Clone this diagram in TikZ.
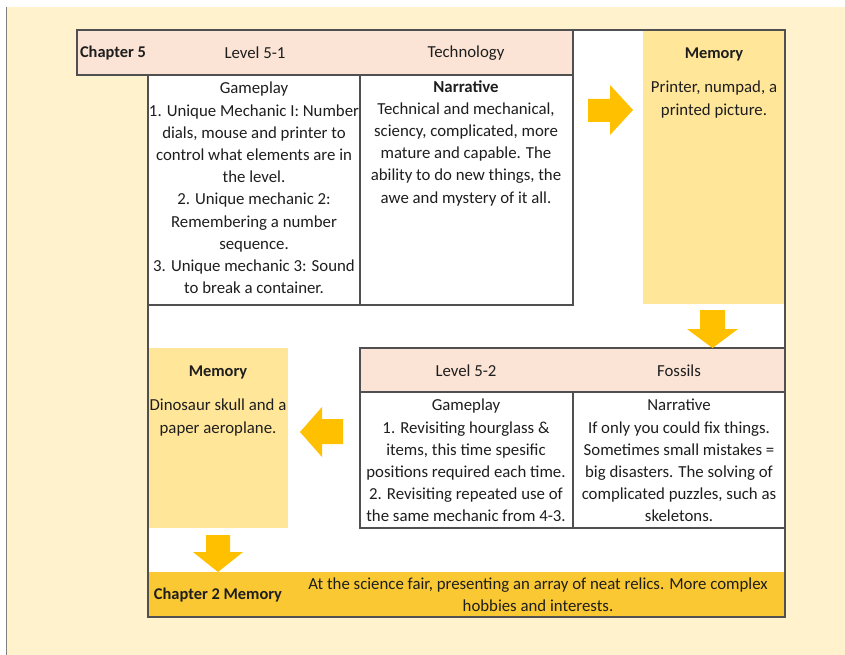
\documentclass[tikz,border=0pt]{standalone}
\usepackage{fontspec}
\setmainfont{Carlito}
\definecolor{cream}{HTML}{FFF2CC}
\definecolor{headpink}{HTML}{FBE4D5}
\definecolor{memyellow}{HTML}{FFE699}
\definecolor{arrowgold}{HTML}{FFC000}
\definecolor{bargold}{HTML}{FAC832}
\definecolor{rule}{HTML}{505050}
\definecolor{ink}{HTML}{1E1E1E}
\tikzset{
  cellline/.style={draw=rule, line width=1.1pt},
  txt/.style={text=ink, align=center, inner sep=0pt, font=\fontsize{16.8}{22.2}\selectfont},
  boldtxt/.style={txt, font=\fontsize{16.4}{22.2}\selectfont\bfseries},
  blockarrow/.style={fill=arrowgold}
}
\begin{document}
\begin{tikzpicture}[x=1pt,y=-1pt]
\useasboundingbox (0,0) rectangle (845,655);
\fill[white] (0,0) rectangle (845,655);
\fill[cream] (6,7) rectangle (845,655);
\draw[gray, line width=1pt] (6,7) -- (6,655);
% chapter frame
\fill[white] (148,30) rectangle (785,617);
\fill[memyellow] (643,30) rectangle (785,304);
\fill[memyellow] (148,348) rectangle (288,528);
\fill[bargold] (148,572) rectangle (785,617);
% level 5-1
\draw[cellline, fill=headpink] (77,30) rectangle (573,75);
\draw[cellline] (148,75) rectangle (360,305);
\draw[cellline] (360,75) rectangle (573,305);
% level 5-2
\draw[cellline, fill=headpink] (360,348) rectangle (785,392);
\draw[cellline] (360,392) rectangle (573,528);
\draw[cellline] (573,392) rectangle (785,528);
\draw[cellline] (573,30) -- (785,30) -- (785,617) -- (148,617) -- (148,75);
% arrows
\fill[blockarrow] (588,99) -- (610,99) -- (610,85) -- (633,110) -- (610,135) -- (610,122) -- (588,122) -- cycle;
\fill[blockarrow] (700,310) -- (725,310) -- (725,329) -- (738,329) -- (712.5,348) -- (687,329) -- (700,329) -- cycle;
\fill[blockarrow] (343,419) -- (322,419) -- (322,407) -- (300,432) -- (322,457) -- (322,444) -- (343,444) -- cycle;
\fill[blockarrow] (206,535) -- (230,535) -- (230,552) -- (243,552) -- (218,572) -- (193,552) -- (206,552) -- cycle;
% texts
\node[boldtxt] (ch5) at (113,53) {Chapter 5};
\node[txt] (lvl51) at (255,53) {Level 5-1};
\node[txt] (tech) at (466,53) {Technology};
\node[boldtxt] (mem1) at (714,54) {Memory};
\node[txt, anchor=north] (game1) at (254,82) {Gameplay\\1. Unique Mechanic I: Number\\dials, mouse and printer to\\control what elements are in\\the level.\\2. Unique mechanic 2:\\Remembering a number\\sequence.\\3. Unique mechanic 3: Sound\\to break a container.};
\node[txt, anchor=north] (narr1) at (466,80) {\textbf{Narrative}\\Technical and mechanical,\\sciency, complicated, more\\mature and capable. The\\ability to do new things, the\\awe and mystery of it all.};
\node[txt, anchor=north] (memtxt1) at (714,81) {Printer, numpad, a\\printed picture.};
\node[txt] (lvl52) at (466,371) {Level 5-2};
\node[txt] (foss) at (679,371) {Fossils};
\node[boldtxt] (mem2) at (218,372) {Memory};
\node[txt, anchor=north] (game2) at (466,399) {Gameplay\\1. Revisiting hourglass \&\\items, this time spesific\\positions required each time.\\2. Revisiting repeated use of\\the same mechanic from 4-3.};
\node[txt, anchor=north] (narr2) at (679,399) {Narrative\\If only you could fix things.\\Sometimes small mistakes =\\big disasters. The solving of\\complicated puzzles, such as\\skeletons.};
\node[txt, anchor=north] (memtxt2) at (218,399) {Dinosaur skull and a\\paper aeroplane.};
\node[boldtxt] (ch2) at (218,595) {Chapter 2 Memory};
\node[txt] (ch2txt) at (538,595) {At the science fair, presenting an array of neat relics. More complex\\hobbies and interests.};
\end{tikzpicture}
\end{document}
